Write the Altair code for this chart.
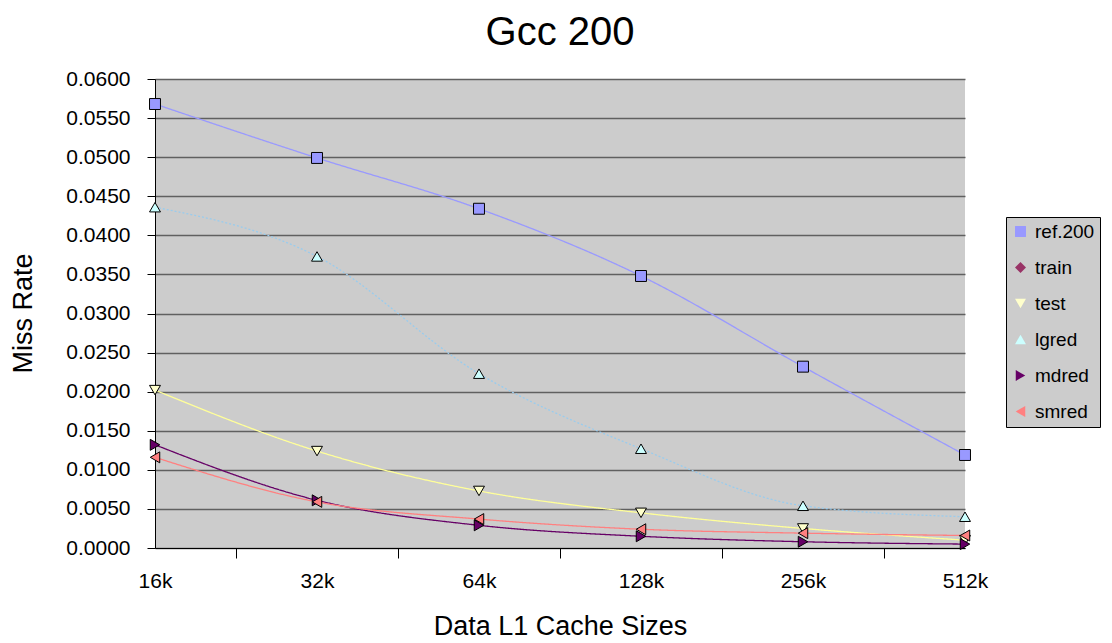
import json
import altair as alt
import pandas as pd

series = ["ref.200", "train", "test", "lgred", "mdred", "smred"]
sizes = ["16k", "32k", "64k", "128k", "256k", "512k"]

ref200 = [0.0568, 0.0499, 0.0434, 0.0348, 0.0232, 0.0119]
train = [None, None, None, None, None, None]
test = [0.0202, 0.0124, 0.0073, 0.0045, 0.0025, 0.0010]
lgred = [0.0436, 0.0373, 0.0223, 0.0127, 0.0054, 0.0040]
mdred = [0.0132, 0.0061, 0.0029, 0.0015, 0.0008, 0.0005]
smred = [0.0116, 0.0059, 0.0037, 0.0024, 0.0019, 0.0016]

line_colors = ["#9999ff", "#993366", "#ffff99", "#99ccee", "#660066", "#ff8080"]
fill_colors = ["#9999ff", "#993366", "#ffffcc", "#ccffff", "#660066", "#ff8080"]
shapes = ["square", "diamond", "triangle-down", "triangle-up", "triangle-right", "triangle-left"]
dashes = [[1, 0], [1, 0], [1, 0], [2, 2], [1, 0], [1, 0]]

rows = []
for s, vals in zip(series, [ref200, train, test, lgred, mdred, smred]):
    for i, (c, v) in enumerate(zip(sizes, vals)):
        if v is not None:
            rows.append({"series": s, "line": s, "idx": i, "size": c, "rate": v})
df = pd.DataFrame(rows)

# line scales use the data-derived (sorted) domain so they stay separate from the legend
line_names = sorted(set(df["line"]))
line_range = [line_colors[series.index(s)] for s in line_names]
dash_range = [dashes[series.index(s)] for s in line_names]

FONT = "Liberation Sans"
label_expr = "datum.value % 1 === 0 ? " + json.dumps(sizes) + "[datum.value] : ''"

x = alt.X(
    "idx:Q",
    scale=alt.Scale(domain=[0, 5], nice=False, zero=False),
    axis=alt.Axis(
        values=[0, 0.5, 1, 1.5, 2, 2.5, 3, 3.5, 4, 4.5, 5],
        labelExpr=label_expr,
        labelFlush=False,
        labelOverlap=False,
        labelBound=False,
        tickOpacity={"condition": {"test": "datum.value % 1 !== 0", "value": 1}, "value": 0},
        tickSize=10,
        tickColor="black",
        domainColor="black",
        labelPadding=12,
        labelFontSize=21,
        labelColor="black",
        grid=False,
        title="Data L1 Cache Sizes",
        titleFontSize=27,
        titleFontWeight="normal",
        titleColor="black",
        titleY=86,
        titleBaseline="alphabetic",
    ),
)
y = alt.Y(
    "rate:Q",
    scale=alt.Scale(domain=[0, 0.06], nice=False),
    axis=alt.Axis(
        values=[round(i * 0.005, 4) for i in range(13)],
        format=".4f",
        tickSize=8,
        tickColor="black",
        domainColor="black",
        labelPadding=17,
        labelFontSize=21,
        labelColor="black",
        grid=True,
        gridColor="#606060",
        gridWidth=1.3,
        title="Miss Rate",
        titleFontSize=27,
        titleFontWeight="normal",
        titleColor="black",
        titleX=-132,
        titleY=234,
        titleAngle=-90,
        titleAlign="center",
        titleBaseline="middle",
    ),
)

legend = alt.Legend(
    orient="none",
    legendX=851,
    legendY=138,
    fillColor="#cccccc",
    strokeColor="black",
    padding=5,
    labelFontSize=19,
    labelColor="black",
    labelOffset=5,
    rowPadding=16,
    symbolSize=120,
    symbolStrokeColor="black",
    symbolStrokeWidth=1,
    symbolOpacity=1,
    labelLimit=300,
)

base = alt.Chart(df)
lines = base.mark_line(interpolate="monotone", strokeWidth=1.3).encode(
    x=x,
    y=y,
    stroke=alt.Stroke("line:N", scale=alt.Scale(range=line_range), legend=None),
    strokeDash=alt.StrokeDash("line:N", scale=alt.Scale(range=dash_range), legend=None),
)
points = base.mark_point(filled=True, size=120, stroke="black", strokeWidth=1, opacity=1).encode(
    x=x,
    y=y,
    shape=alt.Shape("series:N", scale=alt.Scale(domain=series, range=shapes), legend=legend, title=""),
    color=alt.Color("series:N", scale=alt.Scale(domain=series, range=fill_colors), legend=legend, title=""),
)

chart = (
    alt.layer(lines, points)
    .properties(
        width=810,
        height=469,
        padding={"left": 147, "top": 71, "right": 138, "bottom": 93},
        title=alt.TitleParams("Gcc 200", fontSize=40, fontWeight="normal", color="black",
                              anchor="middle", offset=15, font=FONT),
    )
    .configure(font=FONT, autosize=alt.AutoSizeParams(type="none"))
    .configure_view(fill="#cccccc", stroke=None)
)

chart.save("out.html", embed_options={"renderer": "svg", "actions": False})
